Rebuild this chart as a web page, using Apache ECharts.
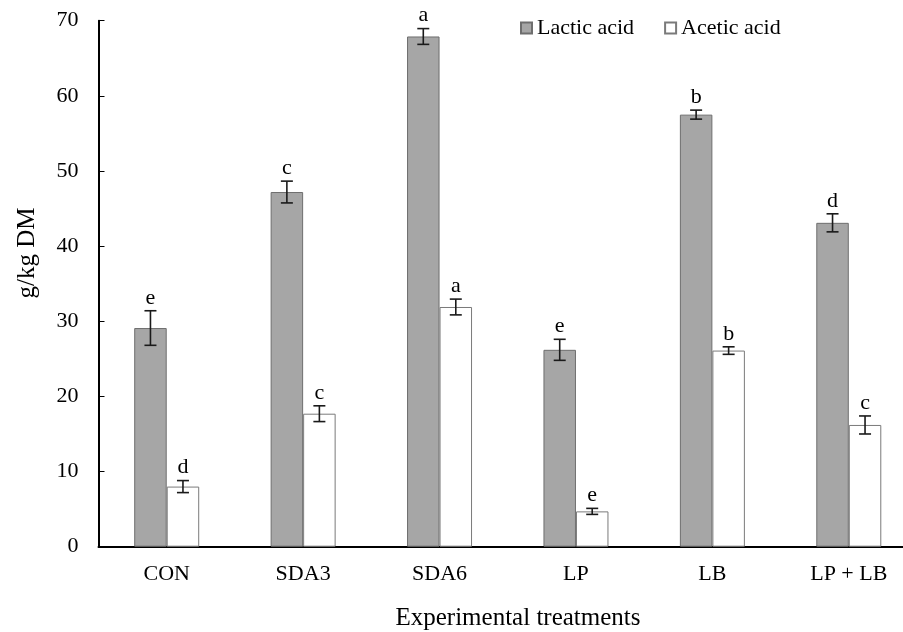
<!DOCTYPE html>
<html>
<head>
<meta charset="utf-8">
<script src="https://cdn.jsdelivr.net/npm/echarts@6/dist/echarts.min.js"></script>
<style>
  html, body { margin: 0; padding: 0; background: #fff; overflow: hidden; }
  #chart { width: 917px; height: 632px; }
</style>
</head>
<body>
<div id="chart"></div>
<script>
// ---- Data ----
const categories = ['CON', 'SDA3', 'SDA6', 'LP', 'LB', 'LP + LB'];
const lacticValues = [29.1, 47.2, 67.9, 26.2, 57.5, 43.1];
const lacticErrors = [2.3, 1.45, 1.05, 1.4, 0.6, 1.2];
const lacticLetters = ['e', 'c', 'a', 'e', 'b', 'd'];
const aceticValues = [8.0, 17.7, 31.9, 4.7, 26.1, 16.2];
const aceticErrors = [0.8, 1.05, 1.05, 0.4, 0.5, 1.2];
const aceticLetters = ['d', 'c', 'a', 'e', 'b', 'c'];
const yTicks = [0, 10, 20, 30, 40, 50, 60, 70];

// ---- Style ----
const FONT = "'Times New Roman', 'Liberation Serif', serif";
const BAR_W = 32.5;
const CAP_W = 12;

function errorSeries(name, values, errors, letters, side) {
  return {
    name: name + ' err',
    type: 'custom',
    z: 10,
    clip: false,
    silent: true,
    data: values.map((v, i) => [i, v, errors[i]]),
    renderItem: function (params, api) {
      const cat = api.value(0), v = api.value(1), e = api.value(2);
      const c = api.coord([cat, v]);
      const x = c[0] + side * BAR_W / 2;
      const yt = api.coord([cat, v + e])[1];
      const yb = api.coord([cat, v - e])[1];
      const ls = { stroke: '#1a1a1a', lineWidth: 1.6 };
      return {
        type: 'group',
        children: [
          { type: 'line', shape: { x1: x, y1: yt, x2: x, y2: yb }, style: ls },
          { type: 'line', shape: { x1: x - CAP_W / 2, y1: yt, x2: x + CAP_W / 2, y2: yt }, style: ls },
          { type: 'line', shape: { x1: x - CAP_W / 2, y1: yb, x2: x + CAP_W / 2, y2: yb }, style: ls },
          { type: 'text', style: { text: letters[params.dataIndex], x: x, y: yt - 2,
              align: 'center', verticalAlign: 'bottom', fill: '#000',
              font: '22px ' + FONT } }
        ]
      };
    }
  };
}

const chart = echarts.init(document.getElementById('chart'), null, { renderer: 'canvas' });
chart.setOption({
  animation: false,
  backgroundColor: '#ffffff',
  textStyle: { fontFamily: FONT, color: '#000' },
  grid: { left: 98.5, top: 20.7, right: 0, height: 526 },
  legend: {
    data: ['Lactic acid', 'Acetic acid'],
    left: 520, top: 17, padding: 0,
    icon: 'rect', itemWidth: 11, itemHeight: 11, itemGap: 30,
    textStyle: { fontFamily: FONT, fontSize: 22, color: '#000' }
  },
  xAxis: {
    type: 'category',
    data: categories,
    axisLine: { lineStyle: { color: '#000', width: 2 } },
    axisTick: { show: false },
    axisLabel: { fontFamily: FONT, fontSize: 22, color: '#000', margin: 17 },
    splitLine: { show: false }
  },
  yAxis: {
    type: 'value',
    min: 0, max: 70, interval: 10,
    axisLine: { show: true, lineStyle: { color: '#000', width: 2 } },
    axisTick: { show: true, inside: true, length: 6, lineStyle: { color: '#000', width: 1 } },
    axisLabel: { fontFamily: FONT, fontSize: 22, color: '#000', margin: 20,
      formatter: v => (yTicks.indexOf(v) >= 0 ? String(v) : '') },
    splitLine: { show: false }
  },
  graphic: [
    { type: 'text', x: 518, y: 618, style: { text: 'Experimental treatments', align: 'center',
        verticalAlign: 'middle', fill: '#000', font: '25px ' + FONT } },
    { type: 'text', x: 27, y: 253, rotation: Math.PI / 2, style: { text: 'g/kg DM', align: 'center',
        verticalAlign: 'middle', fill: '#000', font: '25px ' + FONT } }
  ],
  series: [
    { name: 'Lactic acid', type: 'bar', data: lacticValues, barWidth: BAR_W, barGap: '0%',
      itemStyle: { color: '#a6a6a6', borderColor: '#6e6e6e', borderWidth: 1 } },
    { name: 'Acetic acid', type: 'bar', data: aceticValues, barWidth: BAR_W, barGap: '0%',
      itemStyle: { color: '#ffffff', borderColor: '#7a7a7a', borderWidth: 1 } },
    errorSeries('Lactic acid', lacticValues, lacticErrors, lacticLetters, -1),
    errorSeries('Acetic acid', aceticValues, aceticErrors, aceticLetters, 1)
  ]
});
</script>
</body>
</html>
